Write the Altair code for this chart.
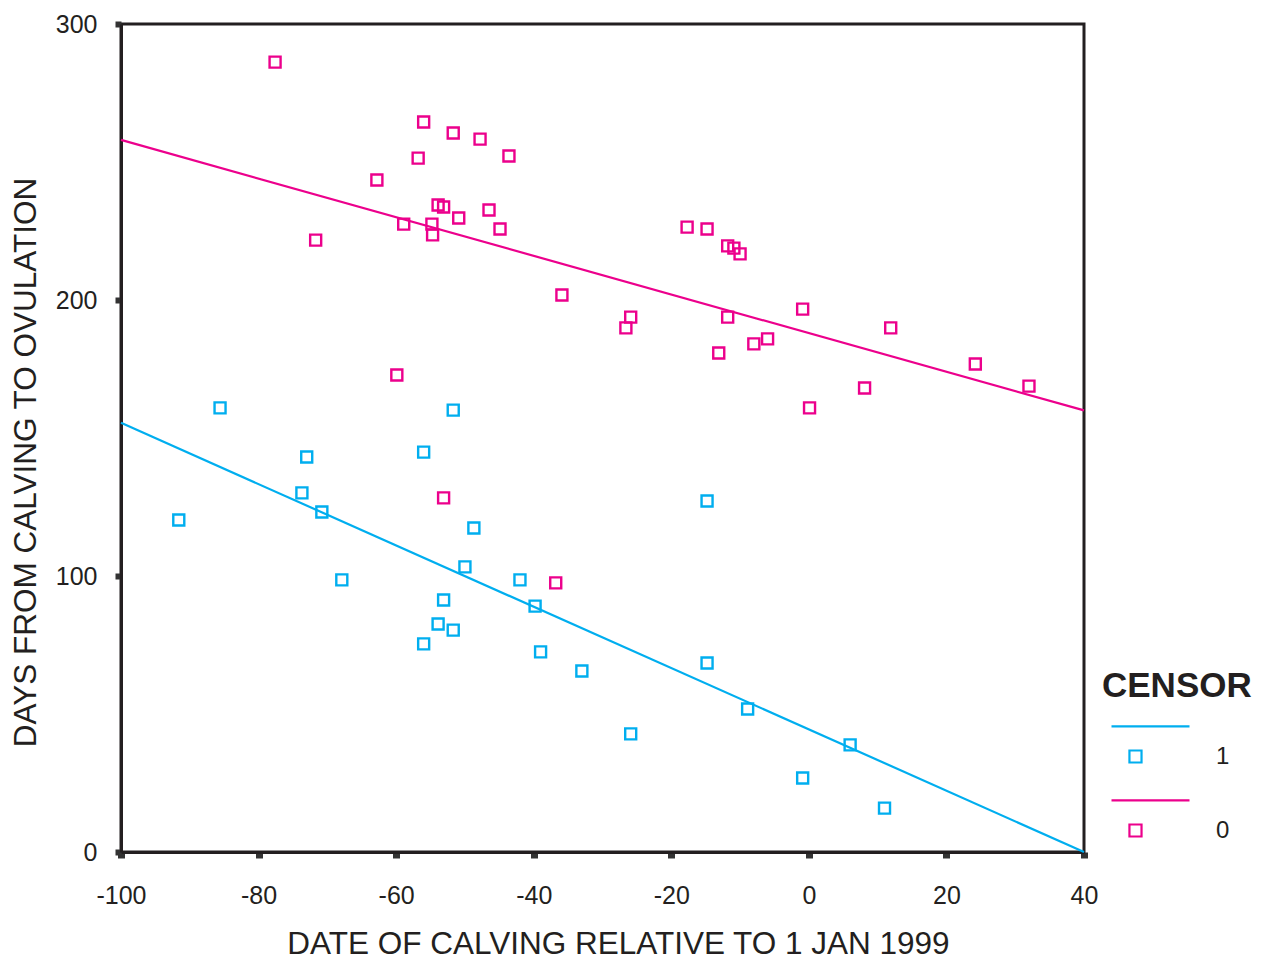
import altair as alt
import pandas as pd

# censor = 1 points
c1_x = [-91.6, -85.6, -73.0, -73.7, -70.8, -67.9, -56.0, -51.7, -48.7, -50.0, -53.1, -53.9,
        -51.7, -56.0, -42.0, -39.8, -39.0, -33.0, -25.9, -14.8, -14.8, -8.9, -0.9, 6.0, 11.0]
c1_y = [120.3, 160.9, 143.1, 130.1, 123.2, 98.6, 144.9, 160.1, 117.4, 103.3, 91.3, 82.6,
        80.4, 75.4, 98.6, 89.1, 72.5, 65.6, 42.8, 127.2, 68.5, 51.8, 26.8, 38.8, 15.9]

# censor = 0 points
c0_x = [-77.6, -56.0, -51.7, -47.8, -43.6, -56.8, -62.8, -53.9, -53.1, -50.9, -46.5, -54.8,
        -58.9, -54.7, -44.9, -71.7, -35.9, -25.9, -26.6, -17.7, -14.8, -11.8, -10.9, -10.0,
        -11.8, -13.1, -8.0, -6.0, -0.9, 0.1, 8.1, 11.9, 24.2, 32.0, -59.9, -53.1, -36.8]
c0_y = [286.2, 264.5, 260.5, 258.3, 252.2, 251.4, 243.5, 234.4, 233.7, 229.7, 232.6, 227.5,
        227.5, 223.6, 225.7, 221.7, 201.8, 193.8, 189.9, 226.4, 225.7, 219.6, 218.8, 216.7,
        193.8, 180.8, 184.1, 185.9, 196.7, 160.9, 168.1, 189.9, 176.8, 168.8, 172.8, 128.3, 97.5]

# fitted lines
fit_x = [-100, 40]
fit1_y = [155.5, 0.0]
fit0_y = [258.0, 160.0]

x_ticks = [-100, -80, -60, -40, -20, 0, 20, 40]
y_ticks = [0, 100, 200, 300]

CYAN = "#00AEEF"
MAGENTA = "#EC008C"
INK = "#231F20"
FONT = "Liberation Sans"

pts = pd.concat([
    pd.DataFrame({"x": c1_x, "y": c1_y, "censor": "1"}),
    pd.DataFrame({"x": c0_x, "y": c0_y, "censor": "0"}),
])
lines = pd.concat([
    pd.DataFrame({"x": fit_x, "y": fit1_y, "censor": "1"}),
    pd.DataFrame({"x": fit_x, "y": fit0_y, "censor": "0"}),
])

color_scale = alt.Scale(domain=["1", "0"], range=[CYAN, MAGENTA])

xenc = alt.X("x:Q", scale=alt.Scale(domain=[-100, 40], nice=False),
             axis=alt.Axis(values=x_ticks, title="DATE OF CALVING RELATIVE TO 1 JAN 1999",
                           labelExpr="'' + datum.value", labelFlush=False,
                           grid=False, domainColor=INK, domainWidth=3,
                           tickColor="#333333", tickSize=6, tickWidth=7,
                           labelFont=FONT, labelFontSize=25, labelColor=INK, labelPadding=25,
                           titleFont=FONT, titleFontSize=31.5, titleFontWeight="normal",
                           titleColor=INK, titleX=497, titleY=92, titleBaseline="middle"))
yenc = alt.Y("y:Q", scale=alt.Scale(domain=[0, 300], nice=False),
             axis=alt.Axis(values=y_ticks, title="DAYS FROM CALVING TO OVULATION",
                           labelExpr="'' + datum.value", labelFlush=False,
                           grid=False, domainColor=INK, domainWidth=3,
                           tickColor="#333333", tickSize=6, tickWidth=6,
                           labelFont=FONT, labelFontSize=25, labelColor=INK, labelPadding=18,
                           titleFont=FONT, titleFontSize=31.5, titleFontWeight="normal",
                           titleColor=INK, titleX=-95, titleY=438, titleBaseline="middle"))

legend_symbol = "M-1,-0.77H1M-0.54,-0.154H-0.23V0.154H-0.54Z"

legend = alt.Legend(title="CENSOR", orient="none", legendX=981, legendY=645,
                    titleFont=FONT, titleFontSize=35, titleFontWeight="bold",
                    titleColor=INK, titlePadding=12,
                    labelFont=FONT, labelFontSize=24, labelColor=INK,
                    labelOffset=25, symbolType=legend_symbol,
                    symbolSize=6084, symbolStrokeWidth=2.2,
                    symbolOffset=8, rowPadding=21, padding=0)

points = alt.Chart(pts).mark_point(shape="square", filled=False, size=121, strokeWidth=2.4,
                                   opacity=1).encode(
    x=xenc, y=yenc,
    color=alt.Color("censor:N", scale=color_scale, sort=["1", "0"], legend=legend),
)

fits = alt.Chart(lines).mark_line(strokeWidth=2.2).encode(
    x="x:Q", y="y:Q",
    color=alt.Color("censor:N", scale=color_scale, sort=["1", "0"], legend=legend),
    detail="censor:N",
)

chart = alt.layer(points, fits).properties(
    width=963, height=828,
    autosize=alt.AutoSizeParams(type="none"),
    padding={"left": 113, "top": 16, "right": 171, "bottom": 112},
).configure(background="white").configure_view(stroke=INK, strokeWidth=3)

chart.save("out.html", embed_options={"renderer": "svg", "actions": False})
